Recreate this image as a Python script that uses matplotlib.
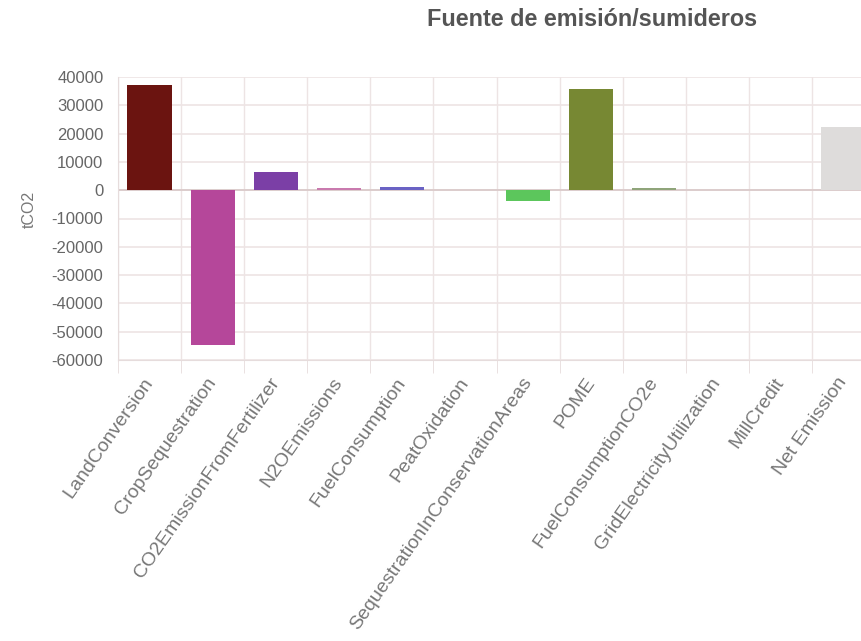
import matplotlib
matplotlib.use("Agg")
import matplotlib.pyplot as plt
import numpy as np

categories = ["LandConversion", "CropSequestration", "CO2EmissionFromFertilizer",
              "N2OEmissions", "FuelConsumption", "PeatOxidation",
              "SequestrationInConservationAreas", "POME", "FuelConsumptionCO2e",
              "GridElectricityUtilization", "MillCredit", "Net Emission"]
values = [37000, -54800, 6400, 900, 1200, 0, -3900, 35700, 700, 0, 0, 22500]
colors = ["#6B1410", "#B5479A", "#7B3FA6", "#C97AAE", "#6A62C4", "#999999",
          "#5CC65C", "#778833", "#8FA47A", "#999999", "#999999", "#DEDCDB"]
yticks = [40000, 30000, 20000, 10000, 0, -10000, -20000, -30000, -40000, -50000, -60000]

plt.rcParams['font.family'] = ['Liberation Sans', 'DejaVu Sans']
fig = plt.figure(figsize=(8.61, 6.41), dpi=100)
ax = fig.add_axes([118/861, (641-360)/641, (875-118)/861, (360-77)/641])

x = np.arange(len(categories))
ax.bar(x, values, width=0.7, color=colors, zorder=3)
ax.set_xlim(-0.5, len(categories) - 0.5)
ax.set_ylim(-60000, 40000)
ax.set_yticks(yticks)
ax.set_yticklabels([str(v) for v in yticks], color="#666666", fontsize=12)
ax.axhline(0, color="#D9C8C8", lw=1.2, zorder=2)

ax.set_xticks(x)
ax.set_xticklabels(categories, rotation=55, ha="right", va="center",
                   rotation_mode="anchor", color="#777777", fontsize=14)
ax.set_xticks(np.arange(len(categories) + 1) - 0.5, minor=True)
ax.tick_params(axis="x", which="major", length=0, pad=14)
ax.tick_params(axis="x", which="minor", length=9, color="#E6DCDC")
ax.tick_params(axis="y", length=0, pad=10.5)

ax.grid(axis="y", which="major", color="#EDE4E4", lw=1.2, zorder=0)
ax.grid(axis="x", which="minor", color="#EDE4E4", lw=1.0, zorder=0)
for s in ax.spines.values():
    s.set_visible(False)
ax.spines["left"].set_visible(True)
ax.spines["left"].set_color("#E6DCDC")
ax.spines["bottom"].set_visible(True)
ax.spines["bottom"].set_color("#E6DCDC")

fig.text(29/861, 1 - 209/641, "tCO2", rotation=90, ha="center", va="center",
         color="#777777", fontsize=11.5)

fig.text(592/861, 1 - 20/641, "Fuente de emisión/sumideros", ha="center", va="center",
         fontsize=16.8, fontweight="bold", color="#555555")

fig.savefig("out.png", dpi=100)
